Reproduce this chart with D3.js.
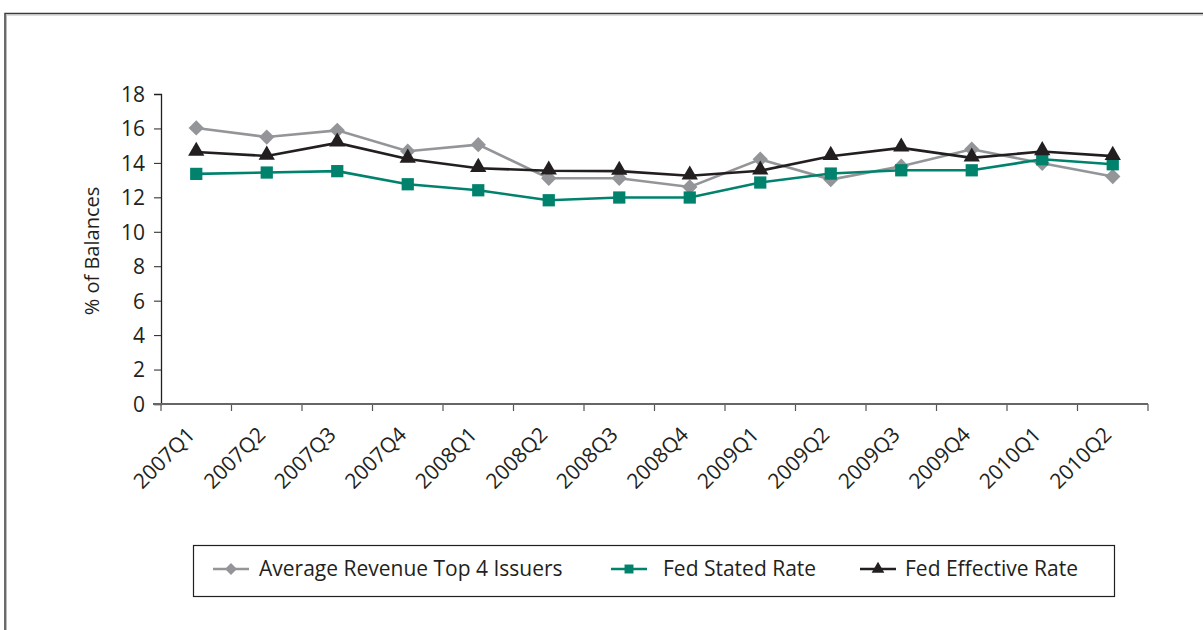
<!DOCTYPE html>
<html>
<head>
<meta charset="utf-8">
<script src="https://cdn.jsdelivr.net/npm/d3@7"></script>
<style>
  body { margin: 0; background: #fff; }
  text { font-family: "Open Sans", "Noto Sans", sans-serif; fill: #231f20; }
</style>
</head>
<body>
<script>
const quarters = ['2007Q1', '2007Q2', '2007Q3', '2007Q4', '2008Q1', '2008Q2', '2008Q3',
  '2008Q4', '2009Q1', '2009Q2', '2009Q3', '2009Q4', '2010Q1', '2010Q2']
const avgRevenue = [16.03, 15.5, 15.89, 14.68, 15.06, 13.11, 13.11, 12.6, 14.21, 13.03, 13.81, 14.79, 13.98, 13.21]
const fedStated = [13.36, 13.44, 13.52, 12.76, 12.41, 11.83, 11.99, 11.99, 12.86, 13.38, 13.57, 13.57, 14.21, 13.92]
const fedEffective = [14.63, 14.4, 15.16, 14.23, 13.69, 13.54, 13.52, 13.25, 13.54, 14.39, 14.87, 14.29, 14.66, 14.39]
const yTicks = [0, 2, 4, 6, 8, 10, 12, 14, 16, 18]
const seriesNames = ['Average Revenue Top 4 Issuers', 'Fed Stated Rate', 'Fed Effective Rate']

const width = 1203
const height = 630
const colors = {
  gray: '#939598',
  teal: '#00826d',
  black: '#231f20'
}

const series = [
  { name: seriesNames[0], values: avgRevenue, color: colors.gray, shape: 'diamond' },
  { name: seriesNames[1], values: fedStated, color: colors.teal, shape: 'square' },
  { name: seriesNames[2], values: fedEffective, color: colors.black, shape: 'triangle' }
]

const svg = d3.select('body').append('svg')
  .attr('width', width)
  .attr('height', height)

// outer frame (only top and left edges are visible)
svg.append('path')
  .attr('d', `M5,${height + 5}V13.5H${width + 5}`)
  .attr('fill', 'none')
  .attr('stroke', '#3a3a3a')
  .attr('stroke-width', 1.5)
svg.append('path')
  .attr('d', `M6.5,${height + 5}V15H${width + 5}`)
  .attr('fill', 'none')
  .attr('stroke', '#bbb')
  .attr('stroke-width', 1)

const plot = { left: 161, right: 1148, top: 94, bottom: 404 }

const x = d3.scaleBand()
  .domain(quarters)
  .range([plot.left, plot.right])
const y = d3.scaleLinear()
  .domain([0, 18])
  .range([plot.bottom, plot.top])

const cx = (d, i) => x(quarters[i]) + x.bandwidth() / 2

// y axis
const yAxis = svg.append('g')
  .attr('transform', `translate(${plot.left},0)`)
  .call(d3.axisLeft(y).tickValues(yTicks).tickSize(7).tickPadding(9))
yAxis.select('.domain').attr('stroke', '#231f20').attr('stroke-width', 1.3)
yAxis.selectAll('.tick line').attr('stroke', '#231f20').attr('stroke-width', 1)
yAxis.selectAll('.tick text')
  .style('font-size', '21px')
  .attr('dy', '0.35em')

svg.append('text')
  .attr('transform', `translate(99,${(plot.top + plot.bottom) / 2 + 2}) rotate(-90)`)
  .attr('text-anchor', 'middle')
  .style('font-size', '20px')
  .text('% of Balances')

// x axis: ticks sit on band boundaries, labels at band centres
const xg = svg.append('g')
xg.selectAll('line.tick')
  .data(quarters.concat(['end']))
  .enter()
  .append('line')
  .attr('class', 'tick')
  .attr('x1', (d, i) => plot.left + i * x.step())
  .attr('x2', (d, i) => plot.left + i * x.step())
  .attr('y1', plot.bottom)
  .attr('y2', plot.bottom + 7)
  .attr('stroke', '#555')
  .attr('stroke-width', 1.2)
xg.append('line')
  .attr('x1', plot.left - 8)
  .attr('x2', plot.right)
  .attr('y1', plot.bottom)
  .attr('y2', plot.bottom)
  .attr('stroke', '#666')
  .attr('stroke-width', 2)
xg.selectAll('text')
  .data(quarters)
  .enter()
  .append('text')
  .attr('transform', d => `translate(${x(d) + x.bandwidth() / 2},${plot.bottom + 32}) rotate(-45)`)
  .attr('text-anchor', 'end')
  .style('font-size', '21px')
  .text(d => d)

// markers
const symbolFor = {
  diamond: d3.symbol().type(d3.symbolDiamond2).size(150),
  square: d3.symbol().type(d3.symbolSquare).size(150),
  triangle: d3.symbol().type(d3.symbolTriangle).size(115)
}

const line = d3.line().x(cx).y(d => y(d))

series.forEach(s => {
  svg.append('path')
    .attr('d', line(s.values))
    .attr('fill', 'none')
    .attr('stroke', s.color)
    .attr('stroke-width', 2.6)
  svg.selectAll(null)
    .data(s.values)
    .enter()
    .append('path')
    .attr('transform', (d, i) => `translate(${cx(d, i)},${y(d) + (s.shape === 'triangle' ? -1 : 0)})`)
    .attr('d', symbolFor[s.shape]())
    .attr('fill', s.color)
})

// legend
const legend = svg.append('g')
legend.append('rect')
  .attr('x', 193.5)
  .attr('y', 545.5)
  .attr('width', 921)
  .attr('height', 51)
  .attr('fill', '#fff')
  .attr('stroke', '#231f20')
  .attr('stroke-width', 1.2)

const legendX = [213, 611, 860]
const legendTextX = [46, 52, 45]
const legendSymbols = {
  diamond: d3.symbol().type(d3.symbolDiamond2).size(90),
  square: d3.symbol().type(d3.symbolSquare).size(80),
  triangle: d3.symbol().type(d3.symbolTriangle).size(70)
}
series.forEach((s, i) => {
  const g = legend.append('g').attr('transform', `translate(${legendX[i]},569)`)
  g.append('line')
    .attr('x1', 0).attr('x2', 36)
    .attr('stroke', s.color)
    .attr('stroke-width', 2.6)
  g.append('path')
    .attr('transform', 'translate(18,0)')
    .attr('d', legendSymbols[s.shape]())
    .attr('fill', s.color)
  g.append('text')
    .attr('x', legendTextX[i])
    .attr('dy', '0.35em')
    .style('font-size', '21px')
    .text(s.name)
})
</script>
</body>
</html>
